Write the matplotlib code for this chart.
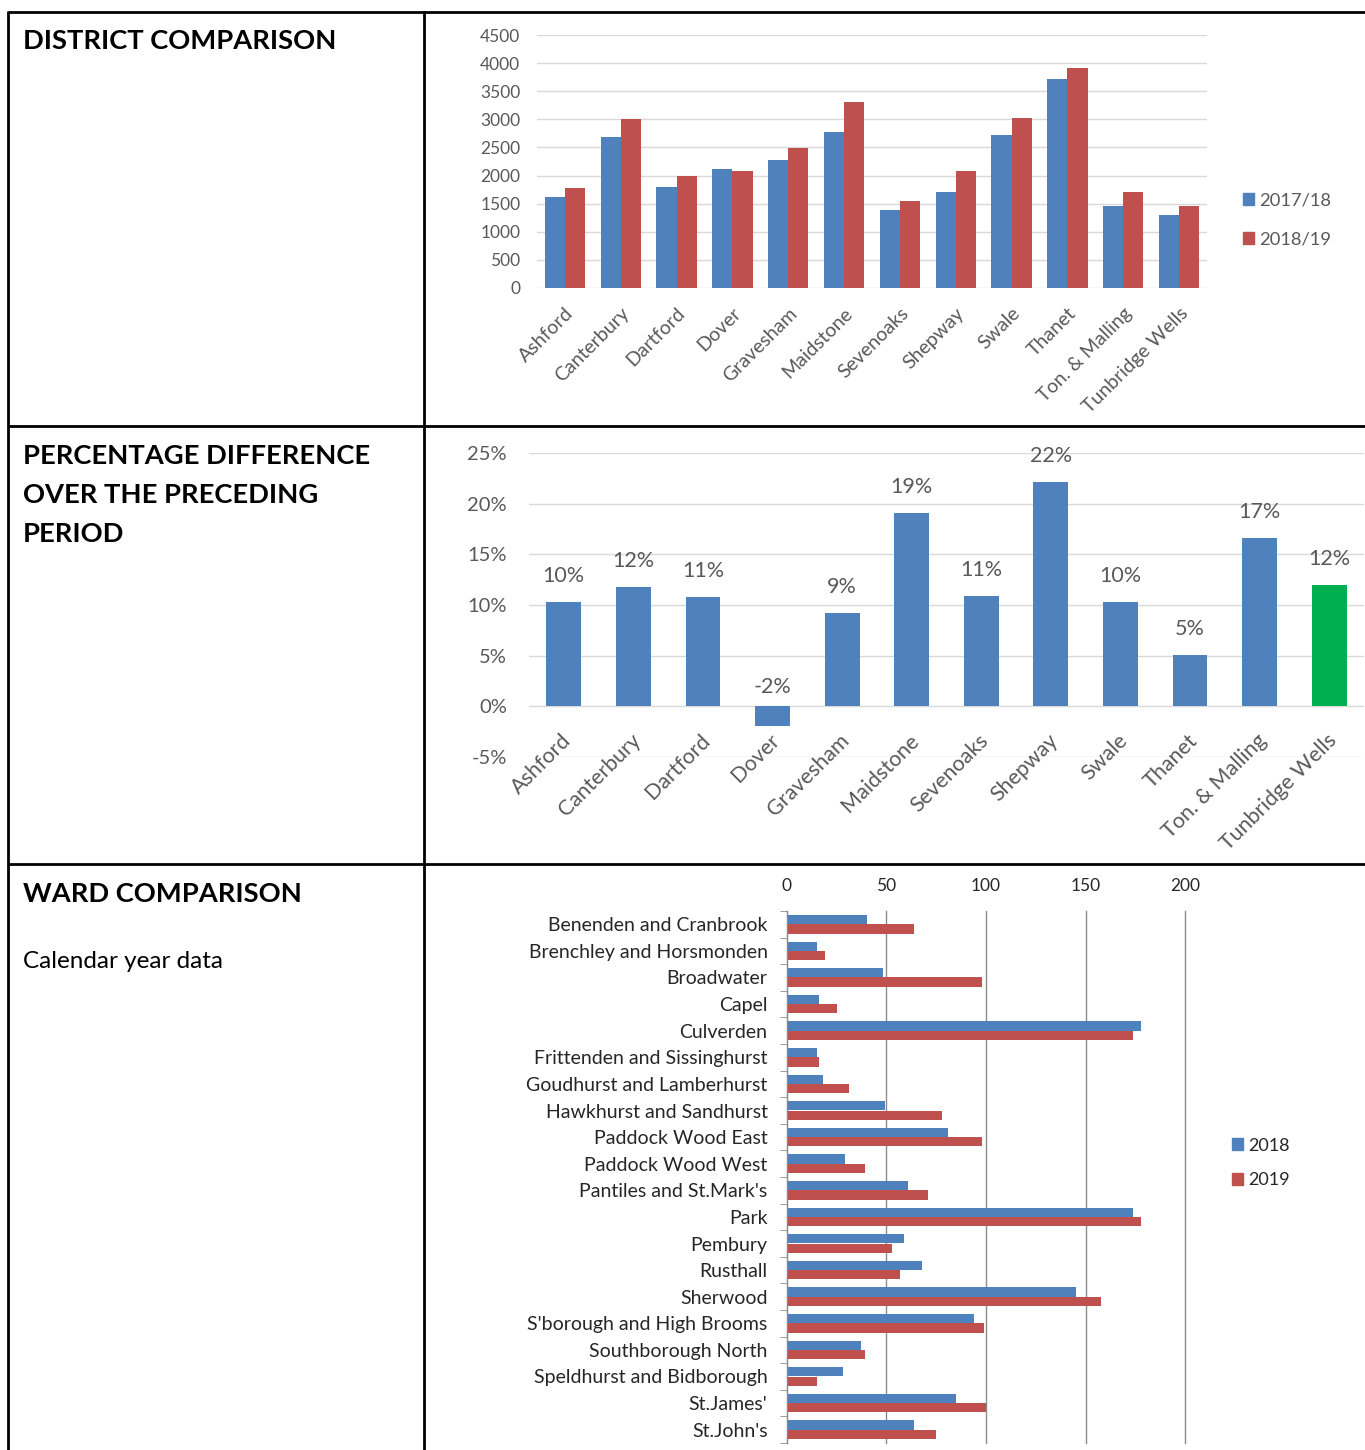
import matplotlib
matplotlib.use("Agg")
import matplotlib.pyplot as plt
from matplotlib.patches import Patch
import numpy as np

plt.rcParams['font.family'] = ['Lato', 'DejaVu Sans']

W, H = 1365, 1450
BLUE = '#4F81BD'
RED = '#C0504D'
GREEN = '#00B050'
GRID = '#D9D9D9'
GREY_TXT = '#595959'

# ---- data ----
districts = ['Ashford', 'Canterbury', 'Dartford', 'Dover', 'Gravesham',
             'Maidstone', 'Sevenoaks', 'Shepway', 'Swale', 'Thanet',
             'Ton. & Malling', 'Tunbridge Wells']
d_1718 = [1610, 2685, 1805, 2120, 2270, 2775, 1390, 1705, 2730, 3725, 1465, 1295]
d_1819 = [1780, 3000, 2000, 2075, 2490, 3310, 1540, 2075, 3020, 3920, 1705, 1465]

pct_diff = [10.3, 11.8, 10.8, -1.9, 9.2, 19.1, 10.9, 22.1, 10.3, 5.1, 16.6, 12.0]

wards = ['Benenden and Cranbrook', 'Brenchley and Horsmonden', 'Broadwater',
         'Capel', 'Culverden', 'Frittenden and Sissinghurst',
         'Goudhurst and Lamberhurst', 'Hawkhurst and Sandhurst',
         'Paddock Wood East', 'Paddock Wood West', "Pantiles and St.Mark's",
         'Park', 'Pembury', 'Rusthall', 'Sherwood', "S'borough and High Brooms",
         'Southborough North', 'Speldhurst and Bidborough', "St.James'",
         "St.John's"]
w_2018 = [40, 15, 48, 16, 178, 15, 18, 49, 81, 29, 61, 174, 59, 68, 145, 94, 37, 28, 85, 64]
w_2019 = [64, 19, 98, 25, 174, 16, 31, 78, 98, 39, 71, 178, 53, 57, 158, 99, 39, 15, 100, 75]


def rect(x0, y0, x1, y1):
    """pixel box (top-left origin) -> figure fraction rect"""
    return [x0 / W, 1 - y1 / H, (x1 - x0) / W, (y1 - y0) / H]


fig = plt.figure(figsize=(W / 100, H / 100), dpi=100)

# ---- table frame ----
frame = fig.add_axes([0, 0, 1, 1])
frame.set_xlim(0, W)
frame.set_ylim(H, 0)
frame.axis('off')
lw = 2
for yy in (12, 426, 864):
    frame.plot([8, W], [yy, yy], c='k', lw=lw, solid_capstyle='butt')
for xx in (8, 424):
    frame.plot([xx, xx], [11, H], c='k', lw=lw, solid_capstyle='butt')

head = dict(fontsize=19.7, fontweight='bold', color='k', va='center', ha='left')
frame.text(23, 41, 'DISTRICT COMPARISON', **head)
frame.text(23, 456, 'PERCENTAGE DIFFERENCE', **head)
frame.text(23, 495, 'OVER THE PRECEDING', **head)
frame.text(23, 534, 'PERIOD', **head)
frame.text(23, 894, 'WARD COMPARISON', **head)
frame.text(23, 961, 'Calendar year data', fontsize=17.5, color='k', va='center', ha='left')

# ---- district comparison ----
ax1 = fig.add_axes(rect(537, 35, 1207, 288))
x = np.arange(len(districts))
bw = 0.36
ax1.bar(x - bw / 2, d_1718, bw, color=BLUE, label='2017/18')
ax1.bar(x + bw / 2, d_1819, bw, color=RED, label='2018/19')
ax1.set_xlim(-0.5, len(districts) - 0.5)
ax1.set_ylim(0, 4500)
ax1.set_yticks(np.arange(0, 4501, 500))
ax1.yaxis.grid(True, color=GRID, lw=1)
ax1.set_axisbelow(True)
for s in ax1.spines.values():
    s.set_visible(False)
ax1.tick_params(axis='y', length=0, colors=GREY_TXT, labelsize=12.5, pad=12)
ax1.set_xticks(x)
ax1.set_xticklabels(districts, rotation=45, ha='right', rotation_mode='anchor')
ax1.tick_params(axis='x', length=0, colors=GREY_TXT, labelsize=14, pad=12)
fig.legend(handles=[Patch(color=BLUE, label='2017/18'), Patch(color=RED, label='2018/19')],
           loc='center left', bbox_to_anchor=(1226 / W, 1 - 220 / H), frameon=False,
           fontsize=13.2, labelcolor=GREY_TXT, handlelength=0.6, handleheight=0.6,
           handletextpad=0.3, labelspacing=1.25)

# ---- percentage difference ----
ax2 = fig.add_axes(rect(529, 453, 1364, 757))
colors = [BLUE] * (len(districts) - 1) + [GREEN]
ax2.bar(x, pct_diff, 0.5, color=colors)
ax2.set_xlim(-0.5, len(districts) - 0.5)
ax2.set_ylim(-5, 25)
ax2.set_yticks(np.arange(-5, 26, 5))
ax2.set_yticklabels(['%d%%' % v for v in range(-5, 26, 5)])
ax2.yaxis.grid(True, color=GRID, lw=1)
ax2.set_axisbelow(True)
for s in ax2.spines.values():
    s.set_visible(False)
ax2.tick_params(axis='both', length=0, colors=GREY_TXT, labelsize=14.5)
ax2.tick_params(axis='y', pad=16)
ax2.set_xticks([])
for i, v in enumerate(pct_diff):
    base = max(v, 0)
    off = 26 if v >= 0 else 19
    ax2.annotate('%d%%' % round(v), (i, base), xytext=(0, off * 0.72),
                 textcoords='offset points', ha='center', va='center',
                 fontsize=15.5, color=GREY_TXT)
    ax2.annotate(districts[i], (i, 0), xytext=(-3 * 0.72, -24 * 0.72),
                 textcoords='offset points', ha='right', va='top',
                 rotation=45, rotation_mode='anchor', fontsize=15.5,
                 color=GREY_TXT)

# ---- ward comparison ----
ax3 = fig.add_axes(rect(787, 911, 1185, 1443))
y = np.arange(len(wards))
bh = 0.35
ax3.barh(y - bh / 2, w_2018, bh, color=BLUE, label='2018')
ax3.barh(y + bh / 2, w_2019, bh, color=RED, label='2019')
ax3.set_ylim(len(wards) - 0.5, -0.5)
ax3.set_xlim(0, 200)
ax3.set_xticks(np.arange(0, 201, 50))
ax3.xaxis.tick_top()
ax3.xaxis.grid(True, color='#8C8C8C', lw=1)
for gl in ax3.get_xgridlines():
    gl.set_clip_on(False)
ax3.set_axisbelow(True)
for s in ('top', 'right', 'bottom'):
    ax3.spines[s].set_visible(False)
ax3.spines['left'].set_color('#8C8C8C')
ax3.tick_params(axis='x', length=0, labelsize=12.5, colors='#262626', pad=12.5)
ax3.set_yticks(y)
ax3.set_yticklabels(wards)
ax3.tick_params(axis='y', which='major', length=0, labelsize=14, colors='#262626', pad=14)
ax3.set_yticks(np.arange(-0.5, len(wards), 1), minor=True)
ax3.tick_params(axis='y', which='minor', length=5, color='#8C8C8C', direction='out')
fig.legend(handles=[Patch(color=BLUE, label='2018'), Patch(color=RED, label='2019')],
           loc='center left', bbox_to_anchor=(1216 / W, 1 - 1163 / H), frameon=False,
           fontsize=13, labelcolor='#262626', handlelength=0.6, handleheight=0.6,
           handletextpad=0.3, labelspacing=1.05)

fig.savefig('out.png', dpi=100)
